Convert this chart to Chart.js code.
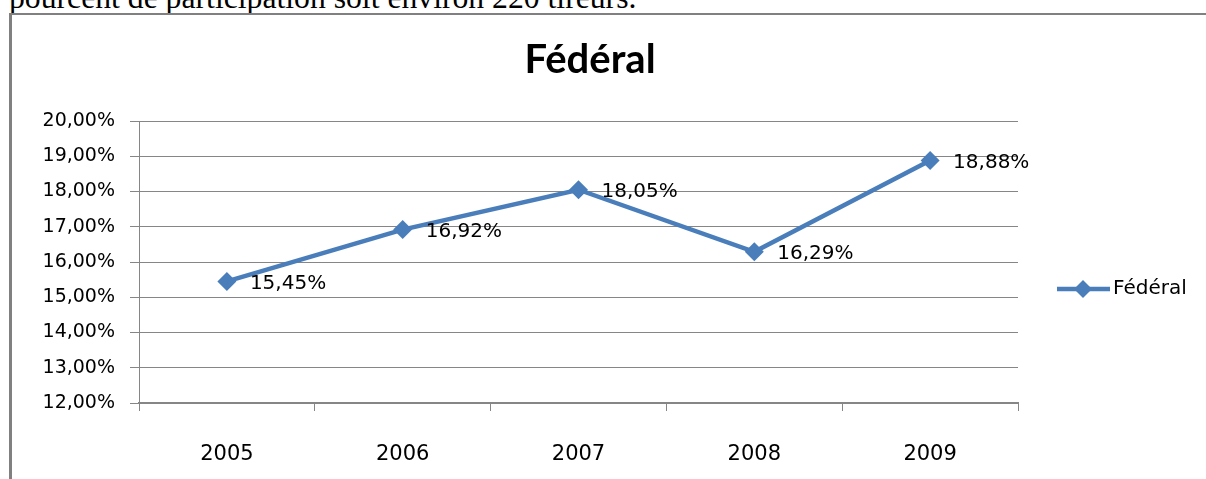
<!DOCTYPE html>
<html>
<head>
<meta charset="utf-8">
<script src="https://cdn.jsdelivr.net/npm/chart.js@4.4.1/dist/chart.umd.min.js"></script>
<style>
  html, body { margin: 0; padding: 0; background: #fff; overflow: hidden; }
  body { width: 1206px; height: 479px; position: relative; }
  #doc {
    position: absolute; left: 9px; top: -20px;
    font: 31.7px "Liberation Serif", "Times New Roman", serif;
    line-height: 36px; white-space: nowrap; color: #000;
  }
  #frame {
    position: absolute; left: 9px; top: 13px; width: 1300px; height: 600px;
    border-left: 3px solid #808080; border-top: 2px solid #808080; background: #fff;
  }
  #wrap { position: absolute; left: 0; top: 0; width: 1206px; height: 479px; }
</style>
</head>
<body>
<div id="doc">pourcent de participation soit environ 220 tireurs.</div>
<div id="frame"></div>
<div id="wrap"><canvas id="chart"></canvas></div>
<script>
const years = ["2005", "2006", "2007", "2008", "2009"];
const federal = [15.45, 16.92, 18.05, 16.29, 18.88];
const yMin = 12;
const yMax = 20;
const seriesName = "Fédéral";
const chartTitle = "Fédéral";

const blue = "#4a7ebb";
const grey = "#868686";
const font = "DejaVu Sans";

const pct = (v) => v.toFixed(2).replace(".", ",") + "%";

// title, point labels and legend, drawn like the Excel original
const extras = {
  id: "extras",
  afterDatasetsDraw(chart) {
    const ctx = chart.ctx;
    const area = chart.chartArea;
    const ds = chart.data.datasets[0];
    ctx.save();

    ctx.fillStyle = "#000";
    ctx.font = "bold 40px Lato";
    ctx.textAlign = "center";
    ctx.textBaseline = "alphabetic";
    ctx.fillText(chartTitle, 590, 73);

    ctx.font = "20px " + font;
    ctx.textAlign = "left";
    ctx.textBaseline = "middle";
    chart.getDatasetMeta(0).data.forEach((pt, i) => {
      ctx.fillText(pct(ds.data[i]), pt.x + 23, pt.y + 2);
    });

    // legend
    const ly = (area.top + area.bottom) / 2 + 27;
    const lx = area.right + 39;
    ctx.strokeStyle = ds.borderColor;
    ctx.lineWidth = 4.5;
    ctx.beginPath();
    ctx.moveTo(lx, ly);
    ctx.lineTo(lx + 53, ly);
    ctx.stroke();
    ctx.fillStyle = ds.borderColor;
    ctx.beginPath();
    ctx.moveTo(lx + 26, ly - 9);
    ctx.lineTo(lx + 35, ly);
    ctx.lineTo(lx + 26, ly + 9);
    ctx.lineTo(lx + 17, ly);
    ctx.closePath();
    ctx.fill();
    ctx.fillStyle = "#000";
    ctx.fillText(ds.label, lx + 56, ly);

    ctx.restore();
  }
};

new Chart(document.getElementById("chart"), {
  type: "line",
  data: {
    labels: years,
    datasets: [{
      label: seriesName,
      data: federal,
      borderColor: blue,
      backgroundColor: blue,
      borderWidth: 4.5,
      tension: 0,
      pointStyle: "rectRot",
      pointRadius: 9.5,
      pointHoverRadius: 9.5,
      pointBackgroundColor: blue,
      pointBorderWidth: 0
    }]
  },
  options: {
    responsive: true,
    maintainAspectRatio: false,
    animation: false,
    events: [],
    layout: { padding: { left: 0, right: 188, top: 121, bottom: 0 } },
    plugins: {
      legend: { display: false },
      title: { display: false },
      tooltip: { enabled: false }
    },
    scales: {
      x: {
        offset: true,
        afterFit(scale) { scale.height = 76; },
        grid: { offset: true, drawOnChartArea: false, color: grey, tickLength: 8 },
        border: { color: grey, width: 2 },
        ticks: { color: "#000", font: { family: font, size: 21 }, padding: 31, maxRotation: 0 }
      },
      y: {
        min: yMin,
        max: yMax,
        afterFit(scale) { scale.width = 139; },
        grid: { color: grey, lineWidth: 1, tickLength: 9 },
        border: { color: grey, width: 1 },
        ticks: {
          stepSize: 1,
          color: "#000",
          font: { family: font, size: 19 },
          padding: 15,
          callback: (v) => pct(v)
        }
      }
    }
  },
  plugins: [extras]
});
</script>
</body>
</html>
